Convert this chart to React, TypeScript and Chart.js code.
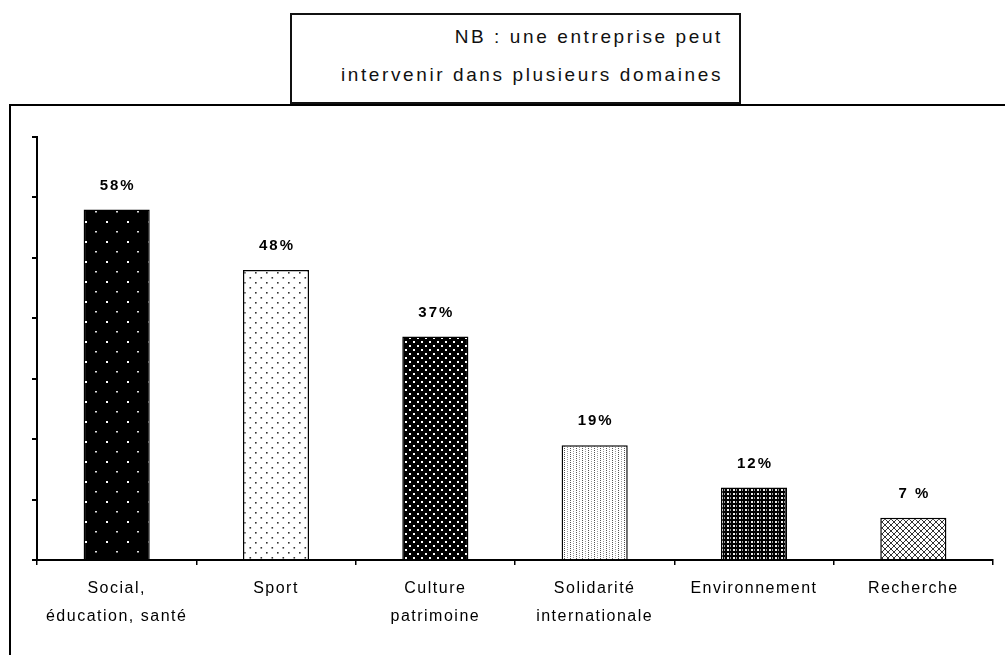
import React, { useEffect, useRef } from "react";
import { Chart, registerables } from "chart.js";

Chart.register(...registerables);

const categories: string[][] = [
  ["Social,", "éducation, santé"],
  ["Sport"],
  ["Culture", "patrimoine"],
  ["Solidarité", "internationale"],
  ["Environnement"],
  ["Recherche"],
];
const values: number[] = [58, 48, 37, 19, 12, 7];
const valueLabels: string[] = ["58%", "48%", "37%", "19%", "12%", "7 %"];
const yMax = 70;
const yStep = 10;
const noteLines: string[] = ["NB : une entreprise peut", "intervenir dans plusieurs domaines"];

type Drawer = (g: CanvasRenderingContext2D) => void;

function makePattern(ctx: CanvasRenderingContext2D, w: number, h: number, draw: Drawer) {
  const c = document.createElement("canvas");
  c.width = w;
  c.height = h;
  const g = c.getContext("2d") as CanvasRenderingContext2D;
  draw(g);
  return ctx.createPattern(c, "repeat") as CanvasPattern;
}

function buildPatterns(ctx: CanvasRenderingContext2D) {
  const social = makePattern(ctx, 21, 20, (g) => {
    g.fillStyle = "#000";
    g.fillRect(0, 0, 21, 20);
    g.fillStyle = "#fff";
    g.fillRect(1, 1, 2, 2);
    g.fillStyle = "#ddd";
    g.fillRect(11, 11, 2, 1.5);
  });
  const sport = makePattern(ctx, 11, 10, (g) => {
    g.fillStyle = "#fff";
    g.fillRect(0, 0, 11, 10);
    g.fillStyle = "#333";
    g.fillRect(2, 2, 1.6, 1.6);
    g.fillRect(7.5, 7, 1.6, 1.6);
  });
  const culture = makePattern(ctx, 8, 8, (g) => {
    g.fillStyle = "#000";
    g.fillRect(0, 0, 8, 8);
    g.fillStyle = "#fff";
    g.fillRect(1, 1, 2, 2);
    g.fillRect(5, 5, 2, 2);
  });
  const solidarite = makePattern(ctx, 6, 4, (g) => {
    g.fillStyle = "#fff";
    g.fillRect(0, 0, 6, 4);
    g.fillStyle = "#555";
    g.fillRect(0, 0, 1, 1);
    g.fillRect(0, 2, 1, 1);
    g.fillStyle = "#999";
    g.fillRect(3, 1, 1, 1);
    g.fillRect(3, 3, 1, 1);
  });
  const environnement = makePattern(ctx, 6, 4, (g) => {
    g.fillStyle = "#000";
    g.fillRect(0, 0, 6, 4);
    g.fillStyle = "#eee";
    g.fillRect(1, 1, 2, 2);
    g.fillStyle = "#999";
    g.fillRect(4, 1, 1, 2);
  });
  const recherche = makePattern(ctx, 6, 6, (g) => {
    g.fillStyle = "#fff";
    g.fillRect(0, 0, 6, 6);
    g.strokeStyle = "#333";
    g.lineWidth = 1;
    g.beginPath();
    g.moveTo(0, 0);
    g.lineTo(6, 6);
    g.moveTo(6, 0);
    g.lineTo(0, 6);
    g.stroke();
  });
  return [social, sport, culture, solidarite, environnement, recherche];
}

const spacingPlugin = {
  id: "letterSpacing",
  beforeDraw(chart: any) {
    (chart.ctx as any).letterSpacing = "1.5px";
  },
};

const valueLabelPlugin = {
  id: "valueLabels",
  afterDatasetsDraw(chart: any) {
    const ctx = chart.ctx as CanvasRenderingContext2D;
    const meta = chart.getDatasetMeta(0);
    ctx.save();
    (ctx as any).letterSpacing = "2px";
    ctx.font = 'bold 15px "Liberation Sans", Arial, sans-serif';
    ctx.fillStyle = "#000";
    ctx.textAlign = "center";
    ctx.textBaseline = "middle";
    meta.data.forEach((el: any, i: number) => {
      ctx.fillText(valueLabels[i], el.x + 1, el.y - 24);
    });
    ctx.restore();
  },
};

export default function App() {
  const ref = useRef<HTMLCanvasElement | null>(null);

  useEffect(() => {
    const canvas = ref.current;
    if (!canvas) return;
    const ctx = canvas.getContext("2d") as CanvasRenderingContext2D;
    const patterns = buildPatterns(ctx);
    const chart = new Chart(canvas, {
      type: "bar",
      data: {
        labels: categories,
        datasets: [
          {
            data: values,
            backgroundColor: patterns,
            borderColor: "#000",
            borderWidth: 1.5,
            borderSkipped: "bottom",
            barPercentage: 0.415,
            categoryPercentage: 1,
          },
        ],
      },
      options: {
        responsive: false,
        animation: false,
        devicePixelRatio: 1,
        layout: { padding: { top: 137, right: 12, left: 0, bottom: 0 } },
        plugins: {
          legend: { display: false },
          tooltip: { enabled: false },
          title: { display: false },
        },
        scales: {
          x: {
            grid: {
              drawOnChartArea: false,
              drawTicks: true,
              tickLength: 5,
              color: "#000",
              lineWidth: 1.5,
            },
            border: { color: "#000", width: 2 },
            ticks: {
              color: "#000",
              font: { family: '"Liberation Sans", Arial, sans-serif', size: 16, lineHeight: 1.75 },
              padding: 10,
              maxRotation: 0,
              autoSkip: false,
            },
            afterFit: (scale: any) => {
              scale.height = 95;
            },
          },
          y: {
            min: 0,
            max: yMax,
            ticks: { display: false, stepSize: yStep },
            grid: {
              drawOnChartArea: false,
              drawTicks: true,
              tickLength: 5,
              color: "#000",
              lineWidth: 2,
            },
            border: { color: "#000", width: 2 },
            afterFit: (scale: any) => {
              scale.width = 37;
            },
          },
        },
      },
      plugins: [spacingPlugin, valueLabelPlugin],
    });
    return () => chart.destroy();
  }, []);

  return (
    <div
      style={{
        position: "fixed",
        left: 0,
        top: 0,
        width: 1005,
        height: 655,
        overflow: "hidden",
        background: "#fff",
      }}
    >
      <div
        style={{
          position: "absolute",
          left: 9,
          top: 104,
          width: 1100,
          height: 700,
          borderLeft: "2px solid #000",
          borderTop: "2px solid #000",
        }}
      />
      <div
        style={{
          position: "absolute",
          left: 290,
          top: 13,
          width: 451,
          height: 91,
          boxSizing: "border-box",
          border: "2px solid #111",
          background: "#fff",
          paddingTop: 3,
          paddingRight: 16,
          textAlign: "right",
          fontFamily: '"Liberation Sans", Arial, sans-serif',
          fontSize: 19,
          lineHeight: "38px",
          letterSpacing: "2.6px",
          color: "#111",
        }}
      >
        {noteLines.map((l, i) => (
          <div key={i}>{l}</div>
        ))}
      </div>
      <canvas
        ref={ref}
        width={1005}
        height={655}
        style={{ position: "absolute", left: 0, top: 0, width: 1005, height: 655 }}
      />
    </div>
  );
}
